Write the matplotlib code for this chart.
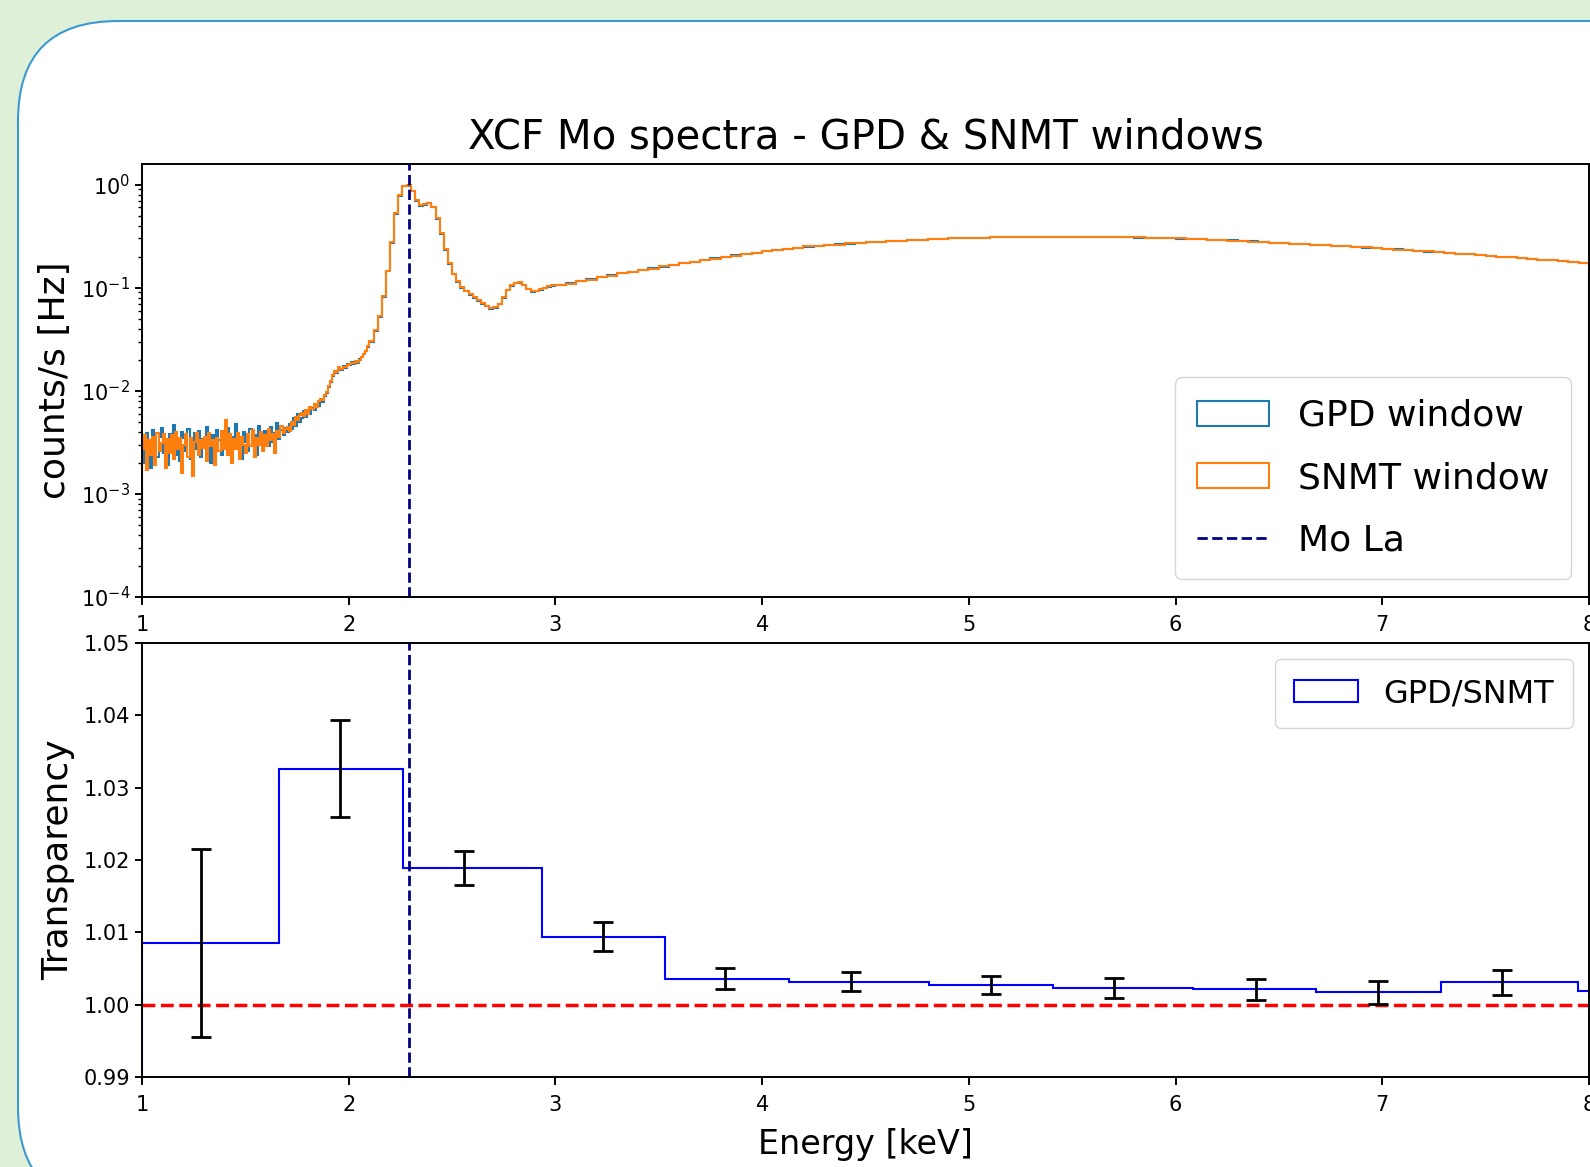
import numpy as np
import matplotlib.pyplot as plt
from matplotlib.patches import FancyBboxPatch

# spectrum binning [keV]: 10 eV below 2.1 keV, 20 eV up to 3 keV, 50 eV above
spec_edges = np.concatenate([np.linspace(1.0, 2.1, 111)[:-1],
                             np.linspace(2.1, 3.0, 46)[:-1],
                             np.linspace(3.0, 8.0, 101)])

# count rates [Hz] per bin, GPD window
gpd_rate = [
    # 1.00 - 2.10 keV
    3.4e-3, 2.0e-3, 3.9e-3, 2.8e-3, 1.8e-3, 4.2e-3, 3.0e-3, 2.3e-3, 3.6e-3, 4.4e-3,
    2.5e-3, 3.3e-3, 1.9e-3, 3.8e-3, 2.9e-3, 4.7e-3, 2.4e-3, 3.2e-3, 2.1e-3, 4.0e-3,
    3.5e-3, 2.6e-3, 4.3e-3, 2.2e-3, 3.1e-3, 3.9e-3, 2.7e-3, 4.1e-3, 2.3e-3, 3.4e-3,
    2.8e-3, 4.5e-3, 3.0e-3, 2.0e-3, 3.7e-3, 2.6e-3, 4.2e-3, 3.3e-3, 2.4e-3, 3.8e-3,
    3.1e-3, 4.4e-3, 2.5e-3, 3.6e-3, 2.9e-3, 4.8e-3, 2.7e-3, 3.5e-3, 2.2e-3, 4.0e-3,
    3.2e-3, 2.6e-3, 4.3e-3, 3.0e-3, 3.7e-3, 2.4e-3, 4.6e-3, 3.3e-3, 2.8e-3, 4.1e-3,
    3.5e-3, 2.9e-3, 4.5e-3, 3.2e-3, 3.9e-3, 4.9e-3, 3.4e-3, 4.2e-3, 3.7e-3, 4.4e-3,
    4.0e-3, 4.8e-3, 4.3e-3, 5.4e-3, 4.6e-3, 5.9e-3, 5.0e-3, 5.5e-3, 6.3e-3, 5.6e-3,
    6.3e-3, 5.9e-3, 6.8e-3, 6.5e-3, 7.3e-3, 7.1e-3, 8.0e-3, 7.8e-3, 8.9e-3, 9.6e-3,
    0.0108, 0.0121, 0.0138, 0.0152, 0.0148, 0.0166, 0.0160, 0.0174, 0.0168, 0.0181,
    0.0176, 0.0190, 0.0183, 0.0196, 0.0188, 0.0203, 0.0212, 0.0226, 0.0242, 0.0268,
    # 2.10 - 3.00 keV
    0.0300, 0.0380, 0.0520, 0.0820, 0.1450,
    0.27, 0.52, 0.78, 0.96, 0.97, 0.86, 0.70, 0.62, 0.64, 0.66,
    0.60, 0.46, 0.33, 0.23, 0.17, 0.135, 0.113, 0.100, 0.092, 0.085,
    0.080, 0.075, 0.070, 0.066, 0.062, 0.064, 0.069, 0.080, 0.094, 0.104,
    0.111, 0.112, 0.106, 0.097, 0.091, 0.092, 0.096, 0.099, 0.102, 0.104,
    # 3.00 - 8.00 keV
    0.105, 0.110, 0.115, 0.121, 0.126, 0.132, 0.138, 0.143, 0.149, 0.154,
    0.160, 0.166, 0.172, 0.179, 0.185, 0.192, 0.199, 0.206, 0.212, 0.218,
    0.226, 0.231, 0.238, 0.243, 0.250, 0.254, 0.260, 0.263, 0.268, 0.271,
    0.276, 0.279, 0.283, 0.286, 0.290, 0.292, 0.296, 0.297, 0.300, 0.301,
    0.304, 0.305, 0.307, 0.308, 0.310, 0.310, 0.311, 0.312, 0.311, 0.312,
    0.311, 0.311, 0.310, 0.310, 0.308, 0.308, 0.306, 0.305, 0.303, 0.301,
    0.299, 0.297, 0.294, 0.292, 0.289, 0.287, 0.283, 0.281, 0.277, 0.274,
    0.271, 0.268, 0.265, 0.262, 0.259, 0.256, 0.252, 0.249, 0.245, 0.242,
    0.238, 0.235, 0.231, 0.228, 0.224, 0.221, 0.217, 0.214, 0.210, 0.207,
    0.203, 0.200, 0.197, 0.194, 0.190, 0.187, 0.184, 0.181, 0.177, 0.174,
]

# count rates [Hz] per bin, SNMT window
snmt_rate = [
    # 1.00 - 2.10 keV
    2.7e-3, 3.7e-3, 1.7e-3, 3.3e-3, 2.4e-3, 3.6e-3, 1.9e-3, 3.9e-3, 2.6e-3, 3.1e-3,
    3.8e-3, 1.8e-3, 3.4e-3, 2.5e-3, 3.7e-3, 2.2e-3, 4.0e-3, 2.7e-3, 3.5e-3, 1.6e-3,
    3.0e-3, 3.8e-3, 2.3e-3, 3.5e-3, 1.5e-3, 3.2e-3, 3.9e-3, 2.4e-3, 3.3e-3, 2.8e-3,
    3.6e-3, 2.1e-3, 3.9e-3, 2.9e-3, 3.3e-3, 1.9e-3, 3.5e-3, 2.6e-3, 4.1e-3, 2.7e-3,
    5.2e-3, 2.4e-3, 3.8e-3, 2.0e-3, 3.4e-3, 2.7e-3, 3.9e-3, 2.2e-3, 3.6e-3, 3.0e-3,
    2.5e-3, 3.8e-3, 2.9e-3, 4.2e-3, 2.3e-3, 3.5e-3, 3.0e-3, 4.0e-3, 2.6e-3, 3.7e-3,
    2.9e-3, 4.3e-3, 3.3e-3, 3.8e-3, 2.5e-3, 4.1e-3, 3.6e-3, 4.6e-3, 3.9e-3, 4.3e-3,
    4.5e-3, 4.1e-3, 5.0e-3, 4.7e-3, 5.6e-3, 5.2e-3, 5.8e-3, 6.1e-3, 5.7e-3, 6.5e-3,
    6.0e-3, 6.9e-3, 6.6e-3, 7.5e-3, 7.0e-3, 7.9e-3, 8.3e-3, 8.1e-3, 9.2e-3, 9.8e-3,
    0.0112, 0.0125, 0.0141, 0.0155, 0.0151, 0.0169, 0.0163, 0.0171, 0.0172, 0.0178,
    0.0181, 0.0186, 0.0187, 0.0193, 0.0192, 0.0200, 0.0215, 0.0230, 0.0245, 0.0272,
    # 2.10 - 3.00 keV
    0.0305, 0.0385, 0.0530, 0.0830, 0.1460,
    0.28, 0.53, 0.79, 0.97, 0.98, 0.87, 0.71, 0.63, 0.65, 0.67,
    0.61, 0.47, 0.34, 0.235, 0.175, 0.137, 0.115, 0.101, 0.093, 0.086,
    0.081, 0.076, 0.071, 0.067, 0.063, 0.065, 0.070, 0.081, 0.095, 0.105,
    0.112, 0.113, 0.107, 0.098, 0.092, 0.093, 0.097, 0.100, 0.103, 0.105,
    # 3.00 - 8.00 keV
    0.106, 0.109, 0.116, 0.120, 0.127, 0.131, 0.139, 0.142, 0.150, 0.153,
    0.161, 0.165, 0.173, 0.178, 0.186, 0.191, 0.200, 0.205, 0.213, 0.217,
    0.227, 0.230, 0.239, 0.242, 0.251, 0.253, 0.261, 0.262, 0.269, 0.270,
    0.277, 0.278, 0.284, 0.285, 0.291, 0.291, 0.297, 0.296, 0.301, 0.300,
    0.305, 0.304, 0.308, 0.307, 0.311, 0.309, 0.312, 0.311, 0.312, 0.311,
    0.312, 0.310, 0.311, 0.309, 0.309, 0.307, 0.307, 0.304, 0.304, 0.300,
    0.300, 0.296, 0.295, 0.291, 0.290, 0.286, 0.284, 0.280, 0.278, 0.273,
    0.272, 0.267, 0.266, 0.261, 0.260, 0.255, 0.253, 0.248, 0.246, 0.241,
    0.239, 0.234, 0.232, 0.227, 0.225, 0.220, 0.218, 0.213, 0.211, 0.206,
    0.204, 0.199, 0.198, 0.193, 0.191, 0.186, 0.185, 0.180, 0.178, 0.173,
]

# GPD/SNMT ratio in wide energy bins
ratio_edges = [1.0, 1.662, 2.262, 2.935, 3.532, 4.130, 4.806, 5.409, 6.085, 6.677, 7.282, 7.947, 8.55]
ratio = [1.0085, 1.0326, 1.0189, 1.0094, 1.0036, 1.0032, 1.0027, 1.0023, 1.0021, 1.0017, 1.0031, 1.0019]
ratio_x = [1.284, 1.960, 2.557, 3.229, 3.821, 4.429, 5.105, 5.702, 6.388, 6.981, 7.580, 8.25]
ratio_err = [0.0130, 0.0067, 0.0023, 0.0020, 0.0015, 0.0013, 0.0012, 0.0014, 0.0014, 0.0016, 0.0017, 0.0016]

mo_la = 2.293  # keV

plt.rcParams.update({
    'axes.linewidth': 1.4,
    'xtick.major.width': 1.4, 'ytick.major.width': 1.4,
    'xtick.major.size': 6, 'ytick.major.size': 5,
    'ytick.minor.width': 1.0, 'ytick.minor.size': 3,
    'xtick.labelsize': 15, 'ytick.labelsize': 15,
    'xtick.major.pad': 7,
})

fig = plt.figure(figsize=(15.9, 11.67), dpi=100, facecolor='#dff0d8')

# white rounded card behind the plots (pixel coordinates)
card = FancyBboxPatch((18, -40), 1800, 1186, boxstyle='round,pad=0,rounding_size=100',
                      transform=None, facecolor='white', edgecolor='#3a9ad0', lw=1.5, zorder=-5)
fig.patches.append(card)

ax1 = fig.add_axes([0.0893, 0.4884, 0.9101, 0.3710])
ax2 = fig.add_axes([0.0893, 0.0771, 0.9101, 0.3719])

spec_centers = 0.5 * (spec_edges[:-1] + spec_edges[1:])
ax1.set_yscale('log')
ax1.hist(spec_centers, bins=spec_edges, weights=gpd_rate, histtype='step',
         color='tab:blue', lw=1.5, label='GPD window')
ax1.hist(spec_centers, bins=spec_edges, weights=snmt_rate, histtype='step',
         color='tab:orange', lw=1.5, label='SNMT window')
ax1.axvline(mo_la, color='navy', ls='--', lw=2, label='Mo La')
ax1.set_xlim(1, 8)
ax1.set_ylim(1e-4, 1.58)
ax1.set_ylabel('counts/s [Hz]', fontsize=26, labelpad=6)
ax1.set_title('XCF Mo spectra - GPD & SNMT windows', fontsize=29, pad=11)
ax1.legend(loc='lower right', fontsize=26, labelspacing=0.78, borderpad=0.6)

r_centers = 0.5 * (np.array(ratio_edges[:-1]) + np.array(ratio_edges[1:]))
ax2.hist(r_centers, bins=ratio_edges, weights=ratio, histtype='step',
         color='blue', lw=1.5, label='GPD/SNMT')
ax2.axhline(1.0, color='red', ls='--', lw=2.5)
ax2.axvline(mo_la, color='navy', ls='--', lw=2)
ax2.errorbar(ratio_x, ratio, yerr=ratio_err, fmt='none', ecolor='black',
             elinewidth=2, capsize=7, capthick=2)
ax2.set_xlim(1, 8)
ax2.set_ylim(0.99, 1.05)
ax2.set_yticks([0.99, 1.00, 1.01, 1.02, 1.03, 1.04, 1.05])
ax2.set_xlabel('Energy [keV]', fontsize=24, labelpad=9)
ax2.set_ylabel('Transparency', fontsize=26, labelpad=6)
ax2.legend(loc='upper right', fontsize=23, borderpad=0.6)

fig.savefig('out.png', dpi=100, facecolor=fig.get_facecolor())
